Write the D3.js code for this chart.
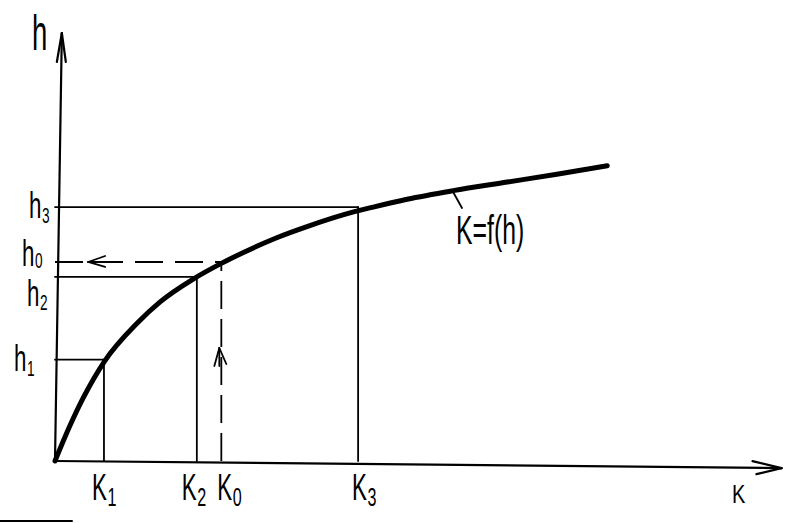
<!DOCTYPE html>
<html>
<head>
<meta charset="utf-8">
<script src="https://cdn.jsdelivr.net/npm/d3@7"></script>
<style>
  html, body { margin: 0; padding: 0; background: #fff; }
  svg { display: block; }
  text { font-family: "Liberation Sans", "DejaVu Sans", sans-serif; fill: #000; }
</style>
</head>
<body>
<svg id="chart" width="795" height="523"></svg>
<script>
// ---- data ----
const curveK = [0, 2.1, 3.9, 6.9, 11.4, 14.6, 19.2, 23.1, 26.1, 30.8, 35.4, 40.0, 44.2, 48.9, 55.3, 62.8, 69.7, 76.7];
const curveH = [0, 5.0, 8.8, 14.0, 19.3, 22.3, 25.5, 27.7, 29.2, 31.3, 33.0, 34.5, 35.6, 36.7, 37.9, 39.1, 40.2, 41.4];

const markerNames = ["1", "2", "0", "3"];
const markerK = [6.8, 19.7, 23.1, 42.1];
const markerH = [14.2, 25.8, 27.9, 35.6];
const dashedMarker = "0";

const axisLabelX = "K";
const axisLabelY = "h";
const curveLabel = "K=f(h)";

// ---- drawing ----
const svg = d3.select("#chart");
const x = d3.scaleLinear().domain([0, 100]).range([55, 775]);
const y = d3.scaleLinear().domain([0, 60]).range([461, 33]);

const line = (x1, y1, x2, y2, w, dash) => {
  const l = svg.append("line")
    .attr("x1", x1).attr("y1", y1).attr("x2", x2).attr("y2", y2)
    .attr("stroke", "#000").attr("stroke-width", w).attr("stroke-linecap", "round");
  if (dash) l.attr("stroke-dasharray", dash).attr("stroke-linecap", "butt");
  return l;
};

// axes
line(x(0), y(0), x(100.9), y(-1.0), 2.2);
line(x(0), y(0), x(0.95), y(60), 2.2);
// arrowheads
line(x(100.9), y(-1.0), x(100.9) - 29, y(-1.0) - 7, 2.2);
line(x(100.9), y(-1.0), x(100.9) - 25, y(-1.0) + 6, 2.2);
line(x(0.95), y(60), x(0.95) - 5, y(60) + 29, 2.2);
line(x(0.95), y(60), x(0.95) + 4, y(60) + 29, 2.2);

// reference lines
markerNames.forEach((n, i) => {
  const dashed = n === dashedMarker;
  line(x(0), y(markerH[i]), x(markerK[i]), y(markerH[i]), 1.8, dashed ? "28,12" : null);
  line(x(markerK[i]), y(0), x(markerK[i]), y(markerH[i]), 1.8, dashed ? "28,10" : null);
  if (dashed) {
    // left-pointing arrow on horizontal dashed line
    const ax = x(4.6), ay = y(markerH[i]);
    line(ax, ay, ax + 28, ay, 1.8);
    line(ax, ay, ax + 17, ay - 6, 1.8);
    line(ax, ay, ax + 17, ay + 5, 1.8);
    // up-pointing arrow on vertical dashed line
    const bx = x(markerK[i]) - 2, by = 348;
    line(bx, by, bx, by + 18, 1.8);
    line(bx, by, bx - 5, by + 18, 1.8);
    line(bx, by, bx + 7, by + 16, 1.8);
  }
});

// curve
const pts = curveK.map((k, i) => [x(k), y(curveH[i])]);
svg.append("path")
  .attr("d", d3.line().curve(d3.curveMonotoneX)(pts))
  .attr("fill", "none").attr("stroke", "#000").attr("stroke-width", 5)
  .attr("stroke-linecap", "round").attr("stroke-linejoin", "round");

// leader line for curve label
line(452, 190, 462, 208, 1.8);

// labels with subscripts (hand-written look: narrow)
function label(main, sub, px, py, size, subSize, sx, subDy) {
  const t = svg.append("text")
    .attr("transform", `translate(${px},${py}) scale(${sx},1)`)
    .attr("font-size", size);
  t.append("tspan").text(main);
  if (sub) t.append("tspan").attr("font-size", subSize).attr("dy", subDy).attr("dx", 1).text(sub);
  return t;
}

// axis labels
label(axisLabelY, null, 32, 50, 50, 0, 0.55, 0);
label(axisLabelX, null, 732, 503, 25, 0, 0.8, 0);

// K labels under the x axis
const kLabelOffsets = [-12, -15, -4, -6];
markerNames.forEach((n, i) => {
  label("K", n, x(markerK[i]) + kLabelOffsets[i], 500, 36, 26, 0.62, 6);
});

// h labels beside the y axis
const hLabelPos = {
  "3": [29, 218, 5],
  "0": [22, 266, 2],
  "2": [27, 306, 4],
  "1": [14, 371, 5]
};
markerNames.forEach((n, i) => {
  const p = hLabelPos[n];
  label("h", n, p[0], p[1], 36, 22, 0.62, p[2]);
});

// curve label
label(curveLabel, null, 456, 244, 40, 0, 0.62, 0);

// scan edge mark at bottom left
line(0, 521, 72, 521, 2);
</script>
</body>
</html>
